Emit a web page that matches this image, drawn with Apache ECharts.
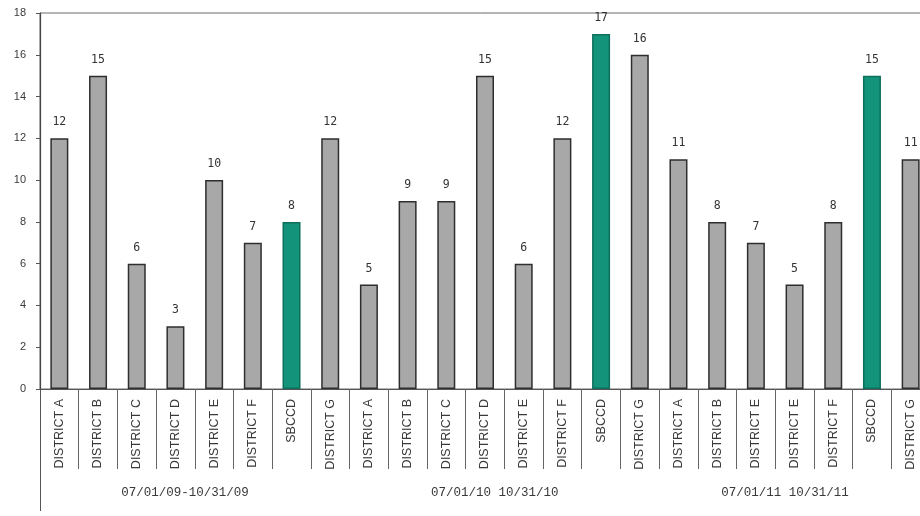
<!DOCTYPE html>
<html>
<head>
<meta charset="utf-8">
<script src="https://cdn.jsdelivr.net/npm/echarts@6/dist/echarts.min.js"></script>
<style>
html,body{margin:0;padding:0;background:#fff;}
#chart{width:920px;height:516px;}
</style>
</head>
<body>
<div id="chart"></div>
<script>
const categories = [
  'DISTRICT A','DISTRICT B','DISTRICT C','DISTRICT D','DISTRICT E','DISTRICT F','SBCCD',
  'DISTRICT G','DISTRICT A','DISTRICT B','DISTRICT C','DISTRICT D','DISTRICT E','DISTRICT F','SBCCD',
  'DISTRICT G','DISTRICT A','DISTRICT B','DISTRICT E','DISTRICT E','DISTRICT F','SBCCD','DISTRICT G'
];
const values = [12,15,6,3,10,7,8, 12,5,9,9,15,6,12,17, 16,11,8,7,5,8,15,11];
const periodLabels = ['07/01/09-10/31/09','07/01/10 10/31/10','07/01/11 10/31/11'];
const periodSlots = [7, 23, 38];
const yTicks = { min: 0, max: 18, interval: 2 };

const halfSlots = [];
for (let i = 0; i < categories.length * 2; i++) {
  const p = periodSlots.indexOf(i);
  halfSlots.push(p >= 0 ? periodLabels[p] : '');
}

const GREY = '#a8a8a8', GREY_B = '#2e2e2e';
const GREEN = '#13937a', GREEN_B = '#0e6f5c';

const chart = echarts.init(document.getElementById('chart'), null, {renderer: 'canvas'});
chart.setOption({
  backgroundColor: '#ffffff',
  animation: false,
  grid: {
    left: 40, top: 13, width: 890, height: 376,
    outerBoundsMode: 'none', containLabel: false,
    show: true, borderColor: '#6a6a6a', borderWidth: 1, backgroundColor: 'transparent'
  },
  xAxis: [
    {
      type: 'category',
      data: categories,
      position: 'bottom',
      axisLine: { show: true, lineStyle: { color: '#555', width: 1.2 } },
      axisTick: { show: true, interval: 0, length: 80, lineStyle: { color: '#666', width: 1 } },
      axisLabel: {
        interval: 0, rotate: 90, margin: 10,
        fontFamily: 'Liberation Sans', fontSize: 12.5, color: '#3a3a3a'
      }
    },
    {
      type: 'category',
      data: halfSlots,
      position: 'bottom',
      axisLine: { show: false },
      axisTick: { show: true, length: 122, interval: function (i) { return i === 0; },
                  lineStyle: { color: '#555', width: 1 } },
      axisLabel: {
        interval: 0, margin: 97,
        fontFamily: 'Liberation Mono', fontSize: 12.5, color: '#3a3a3a'
      }
    }
  ],
  yAxis: {
    type: 'value',
    min: yTicks.min, max: yTicks.max, interval: yTicks.interval,
    axisLine: { show: true, lineStyle: { color: '#444', width: 1.2 } },
    axisTick: { show: true, length: 4, lineStyle: { color: '#555' } },
    splitLine: { show: false },
    axisLabel: { margin: 14, fontFamily: 'Liberation Sans', fontSize: 11, color: '#3a3a3a' }
  },
  series: [{
    type: 'bar',
    xAxisIndex: 0,
    barWidth: 18,
    data: values.map(function (v, i) {
      const g = categories[i] === 'SBCCD';
      return {
        value: v,
        itemStyle: {
          color: g ? GREEN : GREY,
          borderColor: g ? GREEN_B : GREY_B,
          borderWidth: 1.5
        }
      };
    }),
    label: {
      show: true, position: 'top', distance: 10,
      fontFamily: 'DejaVu Sans Mono', fontSize: 11.5, color: '#333'
    }
  }]
});
</script>
</body>
</html>
